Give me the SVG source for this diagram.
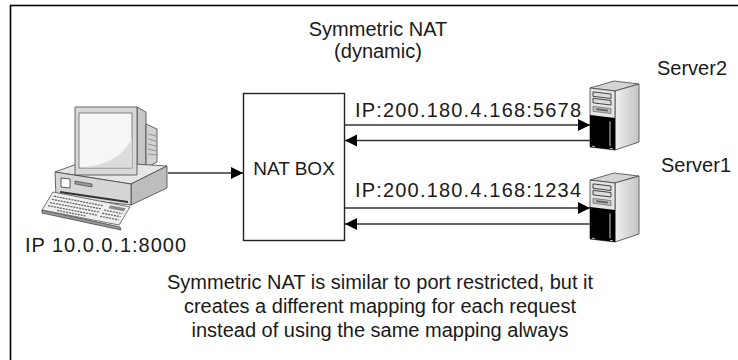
<svg xmlns="http://www.w3.org/2000/svg" width="738" height="360" viewBox="0 0 738 360">
  <style>
    text { font-family: "Liberation Sans", Arial, sans-serif; font-size: 20px; fill: #1a1a1a; }
    .mid { text-anchor: middle; }
    .conn { stroke: #333; stroke-width: 1.6; fill: none; }
    .edge { stroke: #444; stroke-width: 0.8; stroke-linejoin: round; }
  </style>
  <defs>
    <marker id="head" markerUnits="userSpaceOnUse" markerWidth="13" markerHeight="13" refX="12" refY="6" orient="auto">
      <path d="M0,0 L12,6 L0,12 Z" fill="#000"/>
    </marker>
    <linearGradient id="side" x1="0" y1="0" x2="1" y2="0">
      <stop offset="0" stop-color="#f0f0f0"/>
      <stop offset="1" stop-color="#c4c4c4"/>
    </linearGradient>
    <!-- tower server icon, origin at the top-left corner -->
    <g id="server-icon">
      <polygon class="edge" points="0,8 25,11 49,4 24,1" fill="#d4d4d4"/>
      <polygon class="edge" points="25,11 49,4 49,62 25,70" fill="url(#side)"/>
      <g transform="skewY(6.84)">
        <rect class="edge" x="0" y="8" width="25" height="59" fill="#e4e4e4"/>
        <rect x="0" y="35" width="25" height="32" fill="#000"/>
        <rect x="3" y="11.5" width="18" height="4.5" fill="#dcdcdc" stroke="#222" stroke-width="0.8"/>
        <rect x="3" y="18" width="18" height="4.5" fill="#dcdcdc" stroke="#222" stroke-width="0.8"/>
        <rect x="3" y="26" width="18" height="5" fill="#bdbdbd" stroke="#555" stroke-width="0.6"/>
        <rect x="6" y="27.5" width="12" height="2" rx="1" fill="#666"/>
        <rect x="19" y="39" width="2" height="25" fill="#666"/>
        <line x1="2" y1="66" x2="5" y2="66" stroke="#bbb" stroke-width="1"/>
        <line x1="20" y1="66" x2="23" y2="66" stroke="#bbb" stroke-width="1"/>
      </g>
    </g>
  </defs>

  <rect x="10.5" y="5.5" width="740" height="370" fill="#fff" stroke="#000" stroke-width="1.6"/>

  <g id="title">
    <text class="mid" x="378" y="36">Symmetric NAT</text>
    <text class="mid" x="378" y="58">(dynamic)</text>
  </g>

  <g id="client">
    <!-- monitor -->
    <polygon class="edge" points="137,107 146,112 146,177 137,175" fill="#c6c6c6"/>
    <polygon class="edge" points="146,124 157,129 157,162 146,168" fill="#d2d2d2"/>
    <g stroke="#777" stroke-width="0.7">
      <line x1="148" y1="134" x2="156" y2="136"/>
      <line x1="148" y1="139" x2="156" y2="141"/>
      <line x1="148" y1="144" x2="156" y2="146"/>
      <line x1="148" y1="149" x2="156" y2="151"/>
      <line x1="148" y1="154" x2="156" y2="155"/>
    </g>
    <!-- desktop case -->
    <polygon class="edge" points="55,172 85,161 167,166 131,184" fill="#e6e6e6"/>
    <polygon class="edge" points="131,184 167,166 167,188 131,205" fill="#bdbdbd"/>
    <polygon class="edge" points="55,172 131,184 131,205 56,197" fill="#d6d6d6"/>
    <polygon points="61,178 70,179 70,188 61,187" fill="#fff" stroke="#333" stroke-width="0.8"/>
    <polygon points="75,181 92,184 92,187 75,184" fill="#999" stroke="#333" stroke-width="0.6"/>
    <polygon points="60,191 128,201 128,203 60,193" fill="#333"/>
    <!-- monitor front -->
    <rect class="edge" x="75" y="107" width="62" height="68" fill="#d8d8d8"/>
    <rect x="79" y="113" width="53" height="55" fill="#f6f6f6" stroke="#666" stroke-width="0.8"/>
    <path d="M132,138 C124,156 106,166 80,167.5 L132,167.5 Z" fill="#dcdcdc"/>
    <!-- keyboard -->
    <polygon class="edge" points="42,210 120,227 121,230 42,213" fill="#9a9a9a"/>
    <g transform="matrix(0.77,0.15,-0.55,0.9,53,192)">
      <rect x="0" y="0" width="100" height="20" fill="#f0f0f0" stroke="#555" stroke-width="0.8" vector-effect="non-scaling-stroke"/>
      <g stroke="#666" stroke-width="1.3" stroke-dasharray="2.6 1.2" vector-effect="non-scaling-stroke">
        <line x1="4" y1="4" x2="68" y2="4"/>
        <line x1="4" y1="7.5" x2="68" y2="7.5"/>
        <line x1="4" y1="11" x2="68" y2="11"/>
        <line x1="4" y1="14.5" x2="68" y2="14.5"/>
        <line x1="18" y1="17.5" x2="55" y2="17.5"/>
        <line x1="72" y1="8" x2="96" y2="8"/>
        <line x1="72" y1="11.5" x2="96" y2="11.5"/>
        <line x1="72" y1="15" x2="96" y2="15"/>
      </g>
      <rect x="76" y="2" width="20" height="3.5" fill="#888"/>
    </g>
    <text x="25" y="252" textLength="161" lengthAdjust="spacing">IP 10.0.0.1:8000</text>
  </g>

  <g id="nat-box">
    <rect x="243.5" y="93.5" width="101" height="147" fill="#fff" stroke="#222" stroke-width="1.4"/>
    <text class="mid" x="294" y="175" style="font-size:19px">NAT BOX</text>
  </g>

  <g id="server2">
    <use href="#server-icon" x="590" y="80"/>
    <text x="657" y="75">Server2</text>
  </g>

  <g id="server1">
    <use href="#server-icon" x="590" y="172"/>
    <text x="661" y="172">Server1</text>
  </g>

  <g id="connectors">
    <line class="conn" x1="168" y1="173" x2="243" y2="173" marker-end="url(#head)"/>
    <line class="conn" x1="345" y1="125" x2="590" y2="125" marker-end="url(#head)"/>
    <line class="conn" x1="590" y1="140.5" x2="345" y2="140.5" marker-end="url(#head)"/>
    <line class="conn" x1="345" y1="208" x2="590" y2="208" marker-end="url(#head)"/>
    <line class="conn" x1="590" y1="224" x2="345" y2="224" marker-end="url(#head)"/>
    <text x="355" y="117" textLength="226" lengthAdjust="spacing">IP:200.180.4.168:5678</text>
    <text x="355" y="197" textLength="226" lengthAdjust="spacing">IP:200.180.4.168:1234</text>
  </g>

  <g id="note">
    <text class="mid" x="380" y="289">Symmetric NAT is similar to port restricted, but it</text>
    <text class="mid" x="380" y="313">creates a different mapping for each request</text>
    <text class="mid" x="380" y="337">instead of using the same mapping always</text>
  </g>
</svg>
